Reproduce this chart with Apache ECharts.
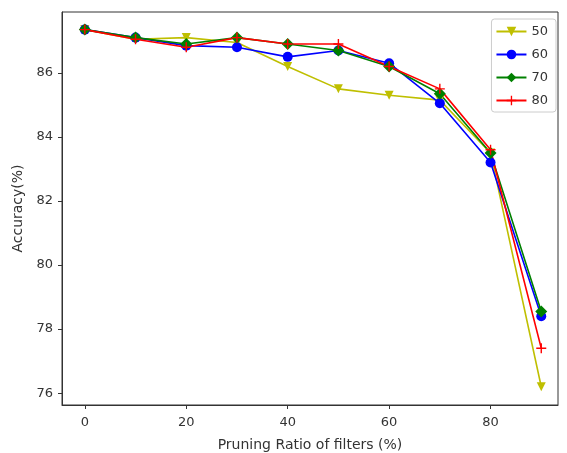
<!DOCTYPE html>
<html>
<head>
<meta charset="utf-8">
<script src="https://cdn.jsdelivr.net/npm/echarts@6/dist/echarts.min.js"></script>
<style>
  html, body { margin: 0; padding: 0; background: #fff; }
  #chart { width: 567px; height: 453px; }
</style>
</head>
<body>
<div id="chart"></div>
<script>
// pruning ratio (%)
var ratios = [0, 10, 20, 30, 40, 50, 60, 70, 80, 90];
var acc50 = [87.35, 87.05, 87.1, 86.95, 86.2, 85.5, 85.3, 85.15, 83.5, 76.2];
var acc60 = [87.35, 87.1, 86.85, 86.8, 86.5, 86.7, 86.3, 85.05, 83.2, 78.4];
var acc70 = [87.35, 87.1, 86.9, 87.1, 86.9, 86.7, 86.2, 85.35, 83.5, 78.55];
var acc80 = [87.35, 87.05, 86.8, 87.1, 86.9, 86.9, 86.2, 85.5, 83.6, 77.4];
var xTicks = [0, 20, 40, 60, 80];
var yTicks = [76, 78, 80, 82, 84, 86];

function pairs(ys) {
  return ratios.map(function (x, i) { return [x, ys[i]]; });
}

var plusPath = 'path://M4.3,0H5.7V4.3H10V5.7H5.7V10H4.3V5.7H0V4.3H4.3Z';

function line(name, ys, color, symbol, size, rotate) {
  return {
    name: name,
    type: 'line',
    data: pairs(ys),
    symbol: symbol,
    symbolSize: size,
    symbolRotate: rotate || 0,
    showAllSymbol: true,
    lineStyle: { color: color, width: 1.6 },
    itemStyle: { color: color, borderWidth: 0 },
    emphasis: { disabled: true },
    animation: false
  };
}

var chart = echarts.init(document.getElementById('chart'));
var font = 'DejaVu Sans';
chart.setOption({
  backgroundColor: '#fff',
  textStyle: { fontFamily: font },
  grid: {
    left: 62, right: 9, top: 12, bottom: 48,
    outerBoundsMode: 'none',
    show: true, borderColor: '#333', borderWidth: 1
  },
  legend: {
    right: 11, top: 19,
    orient: 'vertical',
    itemWidth: 30, itemHeight: 12, itemGap: 10,
    padding: [6, 8, 5, 4],
    borderColor: '#ccc', borderWidth: 1, borderRadius: 3,
    backgroundColor: 'rgba(255,255,255,0.8)',
    textStyle: { fontFamily: font, fontSize: 13, color: '#333' },
    data: ['50', '60', '70', '80']
  },
  xAxis: {
    type: 'value',
    min: -4.5, max: 93.3,
    name: 'Pruning Ratio of filters (%)',
    nameLocation: 'middle', nameGap: 33,
    nameTextStyle: { fontFamily: font, fontSize: 14, color: '#333' },
    axisLine: { show: true, onZero: false, lineStyle: { color: '#333' } },
    axisTick: { show: true, inside: false, length: 4, lineStyle: { color: '#333' }, customValues: xTicks },
    axisLabel: { fontFamily: font, fontSize: 13, color: '#333', margin: 11, customValues: xTicks },
    splitLine: { show: false }
  },
  yAxis: {
    type: 'value',
    min: 75.63, max: 87.9,
    name: 'Accuracy(%)',
    nameLocation: 'middle', nameGap: 35,
    nameTextStyle: { fontFamily: font, fontSize: 14, color: '#333' },
    axisLine: { show: true, onZero: false, lineStyle: { color: '#333' } },
    axisTick: { show: true, inside: false, length: 4, lineStyle: { color: '#333' }, customValues: yTicks },
    axisLabel: { fontFamily: font, fontSize: 13, color: '#333', margin: 9, customValues: yTicks },
    splitLine: { show: false }
  },
  series: [
    line('50', acc50, '#bfbf00', 'triangle', 9, 180),
    line('60', acc60, '#0000ff', 'circle', 10),
    line('70', acc70, '#008000', 'diamond', 12),
    line('80', acc80, '#ff0000', plusPath, 10)
  ]
});
</script>
</body>
</html>
